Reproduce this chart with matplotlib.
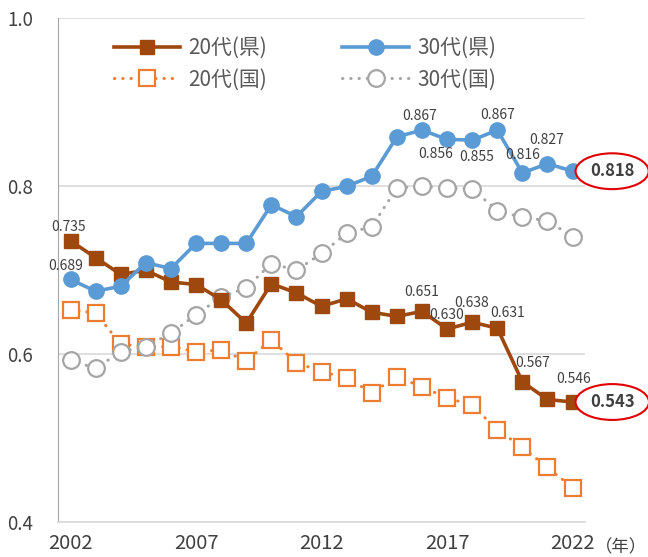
import matplotlib
matplotlib.use("Agg")
import matplotlib.pyplot as plt
from matplotlib.lines import Line2D

plt.rcParams['font.family'] = ['Noto Sans CJK JP', 'DejaVu Sans']

years = list(range(2002, 2023))
v20_pref = [0.735, 0.715, 0.695, 0.700, 0.686, 0.683, 0.665, 0.637, 0.684, 0.673, 0.657,
            0.666, 0.650, 0.645, 0.651, 0.630, 0.638, 0.631, 0.567, 0.546, 0.543]
v30_pref = [0.689, 0.675, 0.681, 0.709, 0.702, 0.732, 0.732, 0.732, 0.778, 0.764, 0.794,
            0.800, 0.812, 0.859, 0.867, 0.856, 0.855, 0.867, 0.816, 0.827, 0.818]
v20_nat = [0.653, 0.649, 0.612, 0.609, 0.609, 0.603, 0.605, 0.592, 0.617, 0.590, 0.579,
           0.572, 0.554, 0.573, 0.561, 0.548, 0.539, 0.510, 0.489, 0.465, 0.441]
v30_nat = [0.593, 0.583, 0.603, 0.609, 0.625, 0.647, 0.668, 0.679, 0.708, 0.700, 0.720,
           0.744, 0.752, 0.798, 0.800, 0.798, 0.797, 0.771, 0.763, 0.759, 0.740]
series_names = ['20代(県)', '30代(県)', '20代(国)', '30代(国)']
xtick_years = [2002, 2007, 2012, 2017, 2022]
yticks = [0.4, 0.6, 0.8, 1.0]

# labelled points: index into series, and label offset in pixels (dx, dy up)
labels20 = [(0, (-2, 14)), (14, (0, 19)), (15, (0, 14)), (16, (-1, 19)), (17, (10, 15)),
            (18, (10, 19)), (19, (26, 20))]
labels30 = [(0, (-5, 13)), (14, (-2, 14)), (15, (-11, -15)), (16, (5, -17)), (17, (0, 15)),
            (18, (0, 18)), (19, (-1, 24))]

c20p = '#9E480E'
c30p = '#5B9BD5'
c20n = '#ED7D31'
c30n = '#A5A5A5'
txt = '#404040'

fig = plt.figure(figsize=(6.48, 5.57), dpi=100)
ax = fig.add_axes([0.0895, 0.0628, 0.8135, 0.904])

dot = (0, (0.1, 2.6))
ax.plot(years, v20_nat, color=c20n, lw=2.2, ls=dot, dash_capstyle='round',
        marker='s', ms=11, mfc='white', mec=c20n, mew=1.6, zorder=3)
ax.plot(years, v30_nat, color=c30n, lw=2.2, ls=dot, dash_capstyle='round',
        marker='o', ms=12, mfc='white', mec=c30n, mew=1.6, zorder=3)
ax.plot(years, v20_pref, color=c20p, lw=2.6, marker='s', ms=10.5, mfc=c20p, mec=c20p, zorder=4)
ax.plot(years, v30_pref, color=c30p, lw=2.6, marker='o', ms=11, mfc=c30p, mec=c30p, zorder=4)

ax.set_xlim(2001.5, 2022.5)
ax.set_ylim(0.4, 1.0)
ax.set_yticks(yticks)
ax.set_yticklabels([f'{v:.1f}' for v in yticks])
ax.set_xticks(xtick_years)
ax.set_xticklabels([str(y) for y in xtick_years])
ax.tick_params(axis='both', length=0, colors=txt)
ax.tick_params(axis='y', pad=18, labelsize=13.5)
ax.tick_params(axis='x', pad=8, labelsize=14.5)

ax.grid(axis='y', color='#D9D9D9', lw=1.2)
ax.set_axisbelow(True)
for s in ['top', 'right']:
    ax.spines[s].set_visible(False)
ax.spines['left'].set_color('#A6A6A6')
ax.spines['bottom'].set_color('#D9D9D9')
ax.spines['bottom'].set_linewidth(1.2)

fig.text(0.998, 0.0175, '（年）', fontsize=12.5, color=txt, ha='right', va='center')


def add_labels(vals, spec):
    for i, (dx, dy) in spec:
        ax.annotate(f'{vals[i]:.3f}', (years[i], vals[i]), xytext=(dx * 0.72, dy * 0.72),
                    textcoords='offset points', ha='center', va='center',
                    fontsize=10, color=txt, zorder=6)


add_labels(v20_pref, labels20)
add_labels(v30_pref, labels30)

for vals in (v30_pref, v20_pref):
    ax.annotate(f'{vals[-1]:.3f}', (years[-1], vals[-1]), xytext=(12.5, 0),
                textcoords='offset points', ha='left', va='center', fontsize=12,
                fontweight='bold', color=txt, annotation_clip=False,
                bbox=dict(boxstyle='ellipse,pad=0.22', fc='white', ec='#E00000', lw=1.5),
                zorder=7)

handles = [
    Line2D([], [], color=c20p, lw=2.6, marker='s', ms=10.5),
    Line2D([], [], color=c20n, lw=2.2, ls=dot, dash_capstyle='round',
           marker='s', ms=11, mfc='white', mec=c20n, mew=1.6),
    Line2D([], [], color=c30p, lw=2.6, marker='o', ms=11),
    Line2D([], [], color=c30n, lw=2.2, ls=dot, dash_capstyle='round',
           marker='o', ms=12, mfc='white', mec=c30n, mew=1.6),
]
leg = ax.legend(handles, [series_names[0], series_names[2], series_names[1], series_names[3]],
                ncol=2, loc='upper left', bbox_to_anchor=(0.07, 1.0), frameon=False,
                fontsize=15, handlelength=3.2, columnspacing=3.6, labelspacing=0.45,
                handletextpad=0.4)
for t in leg.get_texts():
    t.set_color('#595959')

fig.savefig('out.png', dpi=100)
